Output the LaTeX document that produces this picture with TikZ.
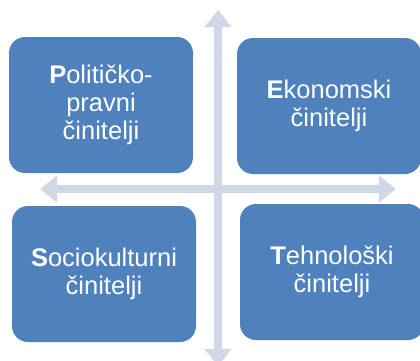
\documentclass[tikz,border=0pt]{standalone}
\usepackage{fontspec}
\setmainfont{Liberation Sans}
\usepackage{xcolor}
\usepackage{tikz}
\usetikzlibrary{arrows.meta}

\definecolor{boxblue}{HTML}{4F81BD}
\definecolor{axisgray}{HTML}{D0D8E8}

\begin{document}
\begin{tikzpicture}[
    x=1pt, y=-1pt,
    factor/.style={rectangle, rounded corners=16pt, inner sep=0pt, text width=184pt, minimum height=136pt, align=center, fill=boxblue, text=white, font=\fontsize{25.5}{28}\selectfont},
    axis/.style={line width=8pt, draw=axisgray, {Triangle[width=26pt,length=17pt]}-{Triangle[width=26pt,length=17pt]}}
]
\useasboundingbox (0,0) rectangle (420,360);

\coordinate (north) at (218,10);
\coordinate (south) at (218,366);
\coordinate (west) at (40,189);
\coordinate (east) at (396,189);

\draw [axis] (north) -- (south);
\draw [axis] (west) -- (east);

\node (politic) [factor] at (101,105) {\textbf{P}olitičko-\\pravni\\činitelji};
\node (econ) [factor] at (329,106) {\textbf{E}konomski\\činitelji};
\node (socio) [factor] at (104,274) {\textbf{S}ociokulturni\\činitelji};
\node (tech) [factor] at (332,272) {\textbf{T}ehnološki\\činitelji};

\end{tikzpicture}
\end{document}
